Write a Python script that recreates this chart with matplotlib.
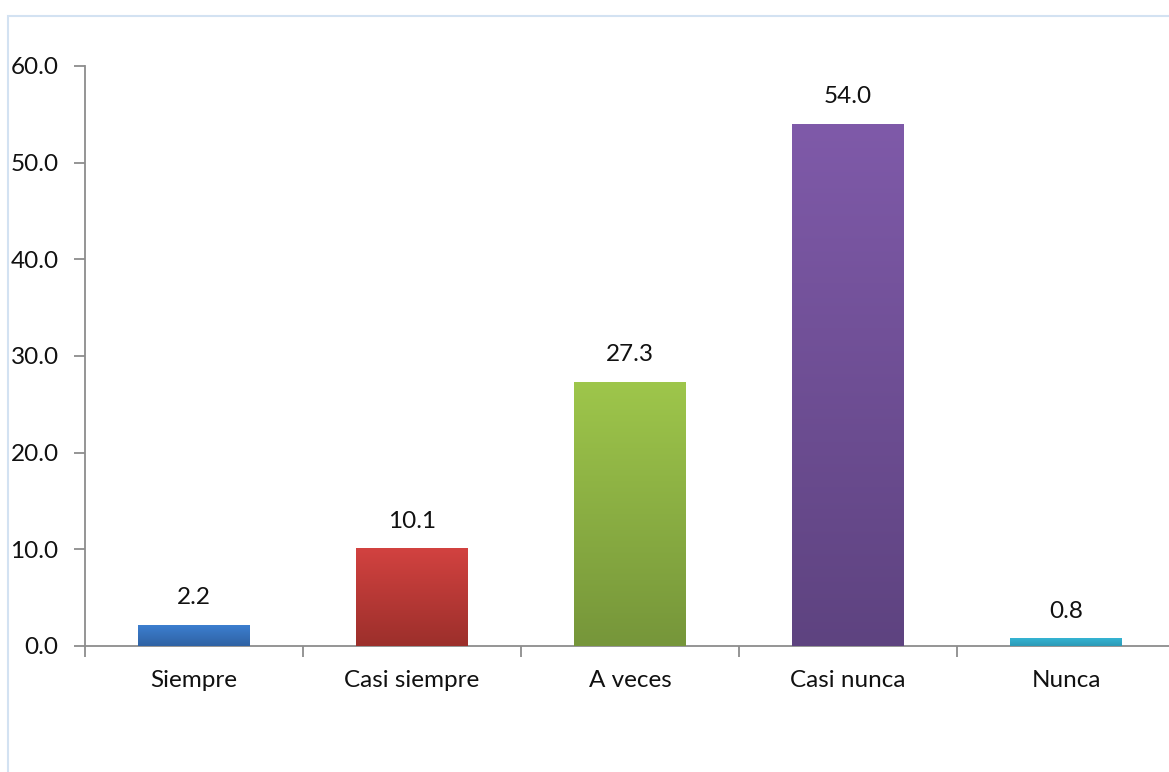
import matplotlib
matplotlib.use("Agg")
import matplotlib.pyplot as plt
import numpy as np
from matplotlib.patches import Rectangle
from matplotlib.colors import LinearSegmentedColormap

categories = ["Siempre", "Casi siempre", "A veces", "Casi nunca", "Nunca"]
values = [2.2, 10.1, 27.3, 54.0, 0.8]
labels = ["2.2", "10.1", "27.3", "54.0", "0.8"]
top_colors = ["#3d80d2", "#d24240", "#9ec64b", "#7f5aa9", "#35b4d3"]
bottom_colors = ["#2f62a3", "#9c2f2b", "#76963a", "#5e4380", "#2d9ab6"]
yticks = [0, 10, 20, 30, 40, 50, 60]

plt.rcParams['font.family'] = ['Lato', 'DejaVu Sans']
FS = 17.5

fig = plt.figure(figsize=(11.69, 7.72), dpi=100)
fig.patch.set_facecolor("white")
# outer frame
fig.patches.append(Rectangle((8/1169, -0.1), 1.2, 1 - 16/772 + 0.1, transform=fig.transFigure,
                             fill=False, edgecolor="#d3e2f2", linewidth=1.5))

ax = fig.add_axes([85/1169, 1 - 646/772, 1090/1169, 580/772])
x = np.arange(len(categories))
bars = ax.bar(x, values, width=0.51, color=top_colors, zorder=2)
ax.set_xlim(-0.5, len(categories) - 0.5)
ax.set_ylim(0, 60)

for b, tc, bc in zip(bars, top_colors, bottom_colors):
    cmap = LinearSegmentedColormap.from_list("g", [bc, tc])
    x0, y0 = b.get_x(), b.get_y()
    w, h = b.get_width(), b.get_height()
    grad = np.linspace(0, 1, 256).reshape(-1, 1)
    im = ax.imshow(grad, cmap=cmap, origin="lower", aspect="auto",
                   extent=[x0, x0 + w, y0, y0 + h], zorder=3)
    im.set_clip_path(b)

for xi, v, lab in zip(x, values, labels):
    ax.annotate(lab, (xi, v), xytext=(0, 12), textcoords="offset points",
                ha="center", va="bottom", fontsize=FS, color="#111111")

for s in ["top", "right"]:
    ax.spines[s].set_visible(False)
for s in ["left", "bottom"]:
    ax.spines[s].set_color("#8c8c8c")
    ax.spines[s].set_linewidth(1.3)

ax.set_yticks(yticks)
ax.set_yticklabels([f"{t:.1f}" for t in yticks], fontsize=FS, color="#111111")
ax.tick_params(axis="y", length=8, width=1.3, color="#8c8c8c", pad=11)

ax.set_xticks(x)
ax.set_xticklabels(categories, fontsize=FS, color="#111111")
ax.set_xticks(np.arange(len(categories) + 1) - 0.5, minor=True)
ax.tick_params(axis="x", which="major", length=0, pad=17)
ax.tick_params(axis="x", which="minor", length=8, width=1.3, color="#8c8c8c")

fig.savefig("out.png", dpi=100, facecolor="white")
